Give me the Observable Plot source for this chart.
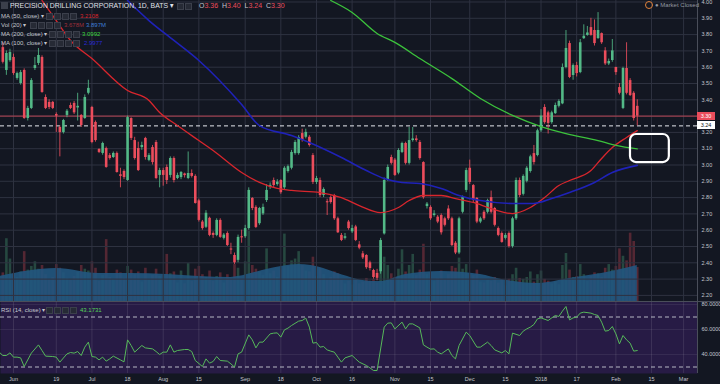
<!DOCTYPE html>
<html><head><meta charset="utf-8">
<script src="https://cdn.jsdelivr.net/npm/d3@7"></script>
<script src="https://cdn.jsdelivr.net/npm/@observablehq/plot@0.6"></script>
<style>
html,body{margin:0;padding:0;background:#131722;}
#wrap{position:relative;width:720px;height:384px;overflow:hidden;background:#131722;font-family:"Liberation Sans",Arial,sans-serif;}
.layer{position:absolute;left:0;}
.ov{position:absolute;white-space:nowrap;line-height:1;}
.icr{position:absolute;white-space:nowrap;font-size:0;line-height:0;height:7px;}
.ic{display:inline-block;width:5px;height:5px;background:#262a35;border:1px solid #3b3f4b;margin-right:1px;}
.pbox{position:absolute;left:697px;width:18px;height:8px;font-size:5.5px;line-height:8px;text-align:center;}
</style></head><body><div id="wrap"></div>
<script>
// ---------------- data ----------------
const firstIndex = -3; // bar index of first visible candle (0 = 1 Jun 2017)
const open = [
3.72,3.58,3.64,3.66,3.531,3.50,3.58,3.285,3.347,3.592,
3.623,3.66,3.414,3.384,3.384,3.31,3.23,3.199,3.304,3.365,
3.378,3.35,3.304,3.285,3.44,3.353,3.261,3.095,3.071,3.101,
3.058,3.046,3.071,2.94,2.96,2.905,3.285,3.15,3.101,3.107,
3.163,3.028,3.107,3.138,2.936,2.966,2.985,2.936,3.04,2.917,
2.923,2.945,2.917,2.948,2.93,2.78,2.65,2.618,2.673,2.58,
2.568,2.66,2.55,2.58,2.485,2.445,2.415,2.56,2.56,2.61,
2.795,2.74,2.64,2.70,2.782,2.865,2.905,2.88,2.905,2.86,
2.96,2.98,3.07,3.07,3.193,3.17,3.17,3.058,2.893,2.905,
2.813,2.775,2.80,2.813,2.67,2.568,2.55,2.65,2.59,2.62,
2.51,2.455,2.445,2.40,2.353,2.335,2.345,2.577,2.905,3.046,
3.03,2.95,3.077,3.132,3.01,3.15,3.16,3.138,3.015,2.745,
2.74,2.69,2.68,2.69,2.67,2.73,2.67,2.52,2.46,2.71,
2.844,2.98,2.874,2.795,2.65,2.71,2.71,2.80,2.733,2.61,
2.58,2.55,2.58,2.50,2.67,2.905,2.82,2.90,2.96,3.07,
3.058,3.21,3.353,3.32,3.26,3.315,3.36,3.375,3.598,3.745,
3.549,3.61,3.567,3.775,3.795,3.843,3.825,3.776,3.806,3.70,
3.62,3.641,3.598,3.475,3.347,3.592,3.518,3.44,3.36];
const high = [
3.75,3.70,3.71,3.68,3.57,3.58,3.59,3.36,3.53,3.66,
3.715,3.67,3.43,3.40,3.39,3.32,3.24,3.28,3.34,3.38,
3.39,3.44,3.31,3.43,3.52,3.36,3.27,3.10,3.14,3.11,
3.07,3.08,3.08,2.98,2.97,3.30,3.29,3.17,3.14,3.14,
3.17,3.07,3.12,3.15,2.98,2.98,3.00,3.05,3.05,2.95,
2.96,2.95,3.08,2.97,2.94,2.79,2.66,2.72,2.68,2.59,
2.67,2.67,2.58,2.59,2.52,2.46,2.57,2.60,2.63,2.86,
2.80,2.75,2.74,2.76,2.88,2.89,2.92,2.91,2.91,2.99,
3.00,3.09,3.15,3.18,3.22,3.22,3.18,3.07,2.93,2.92,
2.86,2.79,2.81,2.82,2.68,2.58,2.58,2.66,2.63,2.63,
2.53,2.47,2.45,2.41,2.36,2.36,2.55,2.92,3.00,3.06,
3.04,3.10,3.14,3.14,3.23,3.23,3.18,3.15,3.02,2.77,
2.75,2.72,2.69,2.70,2.68,2.75,2.68,2.53,2.68,2.81,
2.98,3.03,2.88,2.80,2.68,2.72,2.79,2.84,2.74,2.62,
2.59,2.58,2.59,2.68,2.92,2.92,2.94,2.99,3.06,3.12,
3.22,3.34,3.37,3.33,3.33,3.38,3.40,3.62,3.825,3.76,
3.62,3.63,3.77,3.86,3.85,3.90,3.89,3.935,3.81,3.72,
3.65,3.77,3.60,3.50,3.60,3.75,3.53,3.45,3.40];
const low = [
3.62,3.55,3.63,3.55,3.52,3.49,3.28,3.27,3.34,3.58,
3.61,3.44,3.34,3.34,3.34,3.20,3.05,3.19,3.29,3.34,
3.31,3.27,3.23,3.28,3.43,3.13,3.14,3.07,3.06,2.98,
3.03,3.04,2.95,2.86,2.91,2.90,3.15,3.03,2.96,3.09,
3.03,3.02,3.00,2.91,2.86,2.87,2.88,2.92,2.89,2.91,
2.91,2.92,2.91,2.92,2.76,2.65,2.60,2.61,2.56,2.55,
2.56,2.55,2.54,2.50,2.45,2.39,2.40,2.52,2.55,2.60,
2.72,2.61,2.63,2.69,2.77,2.85,2.86,2.87,2.82,2.85,
2.95,2.97,3.06,3.06,3.14,3.16,3.11,2.88,2.88,2.80,
2.80,2.69,2.76,2.66,2.58,2.53,2.54,2.60,2.58,2.53,
2.48,2.42,2.36,2.35,2.30,2.29,2.33,2.57,2.90,3.00,
2.93,2.94,3.07,3.00,3.00,3.14,3.14,3.03,2.79,2.73,
2.66,2.68,2.64,2.57,2.62,2.66,2.50,2.45,2.45,2.70,
2.83,2.88,2.77,2.64,2.64,2.66,2.70,2.70,2.62,2.56,
2.52,2.54,2.49,2.49,2.66,2.80,2.81,2.89,2.95,3.00,
3.05,3.20,3.25,3.19,3.25,3.31,3.35,3.37,3.59,3.53,
3.52,3.54,3.56,3.77,3.79,3.79,3.73,3.77,3.74,3.61,
3.61,3.63,3.55,3.43,3.34,3.43,3.42,3.27,3.24];
const close = [
3.63,3.684,3.69,3.561,3.561,3.567,3.285,3.347,3.518,3.61,
3.672,3.445,3.347,3.353,3.347,3.30,3.199,3.273,3.33,3.347,
3.32,3.36,3.242,3.414,3.47,3.138,3.15,3.077,3.132,2.985,
3.04,3.071,2.954,2.93,2.923,3.291,3.163,3.04,2.966,3.12,
3.046,3.058,3.015,2.917,2.966,2.936,2.905,3.04,2.905,2.936,
2.954,2.935,2.948,2.93,2.764,2.66,2.61,2.704,2.568,2.568,
2.66,2.556,2.57,2.506,2.48,2.40,2.556,2.555,2.61,2.844,
2.733,2.617,2.733,2.74,2.844,2.875,2.874,2.895,2.83,2.98,
2.99,3.077,3.138,3.168,3.15,3.20,3.12,2.893,2.917,2.813,
2.85,2.77,2.77,2.67,2.584,2.537,2.56,2.61,2.61,2.537,
2.49,2.43,2.37,2.365,2.31,2.305,2.537,2.905,2.985,3.01,
2.936,3.089,3.132,3.01,3.15,3.16,3.15,3.04,2.80,2.76,
2.67,2.70,2.65,2.584,2.63,2.67,2.506,2.46,2.67,2.80,
2.966,2.893,2.782,2.65,2.67,2.67,2.782,2.71,2.63,2.568,
2.525,2.568,2.50,2.67,2.905,2.813,2.93,2.98,3.05,3.015,
3.21,3.30,3.26,3.255,3.32,3.365,3.39,3.598,3.715,3.537,
3.61,3.561,3.75,3.79,3.81,3.795,3.745,3.825,3.75,3.62,
3.635,3.70,3.567,3.44,3.592,3.44,3.426,3.285,3.30];
const volume = [ // millions
3.1,6.8,4.6,3.0,2.6,3.2,5.4,3.4,3.8,4.3,
3.5,3.9,2.9,2.4,2.6,4.0,3.6,3.1,2.5,2.3,
2.7,3.2,3.9,3.5,3.3,4.3,3.6,2.2,2.8,6.7,
2.6,2.4,3.4,3.1,2.5,3.8,3.4,2.9,3.2,2.1,
3.6,2.3,2.8,3.5,2.7,2.4,5.1,3.0,3.2,2.0,
3.3,1.9,4.1,2.2,3.5,3.8,2.9,2.6,3.3,2.2,
2.7,3.1,2.0,2.9,2.5,4.0,3.6,2.4,4.3,7.6,
3.9,3.5,3.2,2.8,5.7,3.0,3.3,2.6,3.4,7.3,
3.8,4.4,4.6,5.4,3.9,3.3,3.2,4.8,2.7,3.6,
2.9,2.3,2.6,3.2,3.0,2.4,1.9,2.2,1.8,2.3,
1.9,2.1,2.5,2.2,2.4,2.0,6.5,4.8,3.9,3.0,
2.6,3.5,5.6,3.2,3.9,5.1,2.8,3.4,6.2,2.9,
3.1,2.2,2.5,3.3,2.4,2.9,3.8,3.6,4.7,3.5,
4.0,3.0,2.8,3.4,2.1,2.0,2.3,2.2,2.6,2.0,
2.3,1.7,2.4,2.9,3.6,2.5,2.4,2.6,3.2,2.1,
2.9,3.3,2.4,2.2,1.9,2.1,1.8,3.9,5.2,3.4,
2.6,2.7,4.0,2.9,2.2,2.7,3.1,3.0,2.6,3.6,
4.0,3.4,3.8,5.7,4.9,4.4,7.4,6.5,3.678];
const volMaIdx = [-4,12,24,33,43,52,61,63,71,80,87,91,101,103,110,120,131,137,147,150,156,165,175];
const volMaVal = [2.7,3.57,3.03,3.03,2.92,2.7,2.6,2.7,3.46,4.0,3.57,3.03,2.16,2.16,2.92,3.25,2.92,2.38,1.95,2.06,2.49,3.03,3.897];
const ma50Idx = [8,12,16,22,32,38,41,46,52,56,64,69,74,78,86,92,97,103,108,111,115,120,124,129,134,140,145,149,153,156,162,165,168,172,175];
const ma50Val = [4.009,3.886,3.764,3.653,3.457,3.396,3.322,3.242,3.15,3.089,2.954,2.893,2.856,2.844,2.831,2.80,2.751,2.708,2.739,2.782,2.813,2.813,2.794,2.77,2.733,2.702,2.739,2.80,2.874,2.905,2.966,3.04,3.107,3.169,3.2108];
const ma100Idx = [32,38,45,52,64,69,78,83,92,99,104,109,114,120,125,131,140,146,151,156,163,168,175];
const ma100Val = [4.009,3.886,3.764,3.641,3.371,3.242,3.181,3.138,3.046,2.966,2.917,2.893,2.887,2.856,2.813,2.782,2.764,2.764,2.794,2.831,2.893,2.954,2.9977];
const ma200Idx = [89,95,102,107,114,123,131,140,148,155,164,169,175];
const ma200Val = [4.009,3.936,3.807,3.752,3.653,3.53,3.408,3.304,3.236,3.193,3.15,3.12,3.0992];
const rsiIdx = [-4,-3,-2,-1,0,1,2,3,5,7,8,9,11,12,13,15,16,17,18,19,20,21,22,23,24,25,26,27,28,30,31,32,33,34,36,37,39,40,41,42,43,44,45,46,48,49,50,51,53,54,55,56,57,58,60,61,62,63,64,66,67,68,69,70,72,73,74,75,76,77,78,80,81,82,83,84,85,86,87,88,89,90,91,92,93,95,96,97,99,100,101,102,104,105,106,107,109,110,111,112,114,115,116,117,118,119,120,122,123,124,125,127,128,130,131,133,134,135,137,138,139,140,142,143,144,145,146,147,148,150,151,152,153,154,155,156,157,158,159,160,162,163,164,165,166,167,168,169,170,171,172,173,174,175];
const rsiVal = [41.9,39.2,39.2,41.3,37.9,37.9,37.3,30.4,41.1,47.7,43.2,38.7,38.4,37.9,33.9,40.5,41.6,41.1,42.4,39.2,45.9,49.9,38.4,37.9,35.7,37.9,34.7,36.5,38.7,35.7,34.1,51.7,47.2,41.9,47.2,45.3,44.5,42.4,40.0,41.9,41.9,47.7,41.9,43.2,44.0,44.0,42.4,35.2,30.4,36.5,33.1,34.4,38.4,35.2,34.7,32.5,29.9,40.5,41.9,55.7,51.7,45.3,49.9,49.9,56.5,57.1,57.3,53.9,59.7,61.1,63.2,66.7,67.2,69.1,61.9,49.1,49.6,45.9,46.4,43.7,42.7,41.9,37.9,33.9,37.3,39.2,36.5,33.9,31.2,29.3,27.2,27.2,61.9,65.1,65.3,60.5,65.9,60.5,64.5,64.5,61.3,47.7,45.9,44.3,44.5,41.9,40.5,44.5,39.2,36.5,47.2,57.9,55.2,45.9,45.9,49.9,47.2,43.7,41.3,43.2,40.5,57.1,55.2,58.7,60.5,61.9,64.0,68.5,69.3,67.2,69.3,71.2,70.4,74.7,78.4,67.7,69.3,69.9,73.1,73.9,73.1,72.0,71.2,65.9,58.7,59.2,62.4,56.5,48.5,55.2,51.7,49.1,42.7,43.1731];
const tickIdx = [0,12,22,32,42,52,65,75,85,95,107,117,128,138,148,158,169,179,188];
const tickLabels = ["Jun","19","Jul","18","Aug","15","Sep","18","Oct","16","Nov","15","Dec","15","2018","17","Feb","15","Mar"];
const priceTicks = [2.2,2.3,2.4,2.5,2.6,2.7,2.8,2.9,3.0,3.1,3.2,3.3,3.4,3.5,3.6,3.7,3.8,3.9,4.0];
const rsiTicks = [80,60,40];
const rsiBands = [70,30];
const lastPrice = 3.30;
const markedPrice = 3.24;
const boxIdx = [173.1,184.0];
const boxPrice = [3.015,3.187];
const title = "PRECISION DRILLING CORPORATION, 1D, BATS";
const ohlcKeys = ["O","H","L","C"];
const ohlcVals = ["3.36","3.40","3.24","3.30"];
const legendNames = ["MA (50, close)","Vol (20)","MA (200, close)","MA (100, close)"];
const legendVals = [["3.2108"],["3.678M","3.897M"],["3.0992"],["2.9977"]];
const rsiName = "RSI (14, close)";
const rsiLast = "43.1731";

// ---------------- drawing ----------------
const W = 720, MAIN_H = 301, RSI_H = 83;
const xDomain = [-3.65, 191.9];
const yDomain = [2.1626, 4.0092];
const UP = "#53b987", DOWN = "#eb4d5c";
const bars = open.map((o, i) => ({k: firstIndex + i, o, h: high[i], l: low[i], c: close[i], v: volume[i]}));
const toPts = (ks, vs) => ks.map((k, i) => ({k, v: vs[i]}));
const labelOf = new Map(tickIdx.map((k, i) => [k, tickLabels[i]]));
const colorOf = d => d.c >= d.o ? UP : DOWN;
const wrap = document.getElementById("wrap");

const volPlot = Plot.plot({
  width: W, height: MAIN_H, marginTop: 0, marginBottom: 0, marginLeft: 0, marginRight: 23,
  style: {background: "#131722"},
  x: {domain: xDomain, axis: null},
  y: {domain: [0, 32.6], axis: null},
  marks: [
    Plot.ruleX(bars, {x: "k", y1: 0, y2: "v", stroke: colorOf, strokeOpacity: 0.3, strokeWidth: 2.6}),
    Plot.areaY(toPts(volMaIdx, volMaVal), {x: "k", y: "v", fill: "#22577f", fillOpacity: 0.9, curve: "monotone-x", clip: true})
  ]
});

const mainPlot = Plot.plot({
  width: W, height: MAIN_H, marginTop: 0, marginBottom: 0, marginLeft: 0, marginRight: 23,
  style: {background: "transparent", color: "#c3c6ce", fontFamily: "Liberation Sans, Arial, sans-serif"},
  x: {domain: xDomain, axis: null},
  y: {domain: yDomain, axis: null},
  marks: [
    Plot.gridX(tickIdx, {stroke: "#2e3240", strokeOpacity: 1}),
    Plot.gridY(priceTicks, {stroke: "#2e3240", strokeOpacity: 1}),
    Plot.axisY(priceTicks, {anchor: "right", label: null, tickSize: 0, tickPadding: 4, tickFormat: d => d.toFixed(2), fontSize: 5.5}),
    Plot.ruleY([lastPrice], {stroke: DOWN, strokeOpacity: 0.75, strokeWidth: 1}),
    Plot.ruleY([markedPrice], {stroke: "#e6e8ee", strokeDasharray: "4,3", strokeWidth: 1}),
    Plot.ruleX(bars, {x: "k", y1: "l", y2: "h", stroke: colorOf, strokeWidth: 1, strokeOpacity: 0.85}),
    Plot.ruleX(bars, {x: "k", y1: "o", y2: d => Math.abs(d.c - d.o) < 0.007 ? d.o + (d.c >= d.o ? 0.007 : -0.007) : d.c, stroke: colorOf, strokeWidth: 2.6}),
    Plot.line(toPts(ma50Idx, ma50Val), {x: "k", y: "v", stroke: "#d8262d", strokeWidth: 1.3, curve: "monotone-x", clip: true}),
    Plot.line(toPts(ma100Idx, ma100Val), {x: "k", y: "v", stroke: "#1f22b8", strokeWidth: 1.6, curve: "monotone-x", clip: true}),
    Plot.line(toPts(ma200Idx, ma200Val), {x: "k", y: "v", stroke: "#3cc23c", strokeWidth: 1.3, curve: "monotone-x", clip: true}),
    Plot.rect([{}], {x1: boxIdx[0], x2: boxIdx[1], y1: boxPrice[0], y2: boxPrice[1], rx: 6, stroke: "#ffffff", strokeWidth: 2.2, fill: "none"}),
    Plot.ruleX([xDomain[1]], {stroke: "#4a4e5a"})
  ]
});

const rsiPlot = Plot.plot({
  width: W, height: RSI_H, marginTop: 0, marginBottom: 11, marginLeft: 0, marginRight: 23,
  style: {background: "transparent", color: "#c3c6ce", fontFamily: "Liberation Sans, Arial, sans-serif"},
  x: {domain: xDomain, axis: null},
  y: {domain: [24.8, 82.4], axis: null},
  marks: [
    Plot.frame({fill: "#271b45", stroke: null}),
    Plot.gridX(tickIdx, {stroke: "#ffffff", strokeOpacity: 0.1}),
    Plot.gridY(rsiTicks, {stroke: "#ffffff", strokeOpacity: 0.07}),
    Plot.ruleY(rsiBands, {stroke: "#cfd2da", strokeDasharray: "4,3", strokeOpacity: 0.85}),
    Plot.line(toPts(rsiIdx, rsiVal), {x: "k", y: "v", stroke: "#56b85a", strokeWidth: 1, clip: true}),
    Plot.axisY(rsiTicks, {anchor: "right", label: null, tickSize: 0, tickPadding: 4, tickFormat: d => d.toFixed(4), fontSize: 5.5}),
    Plot.axisX(tickIdx, {anchor: "bottom", label: null, tickSize: 0, tickPadding: 4, tickFormat: d => labelOf.get(d), fontSize: 5.5}),
    Plot.ruleX([xDomain[1]], {stroke: "#4a4e5a", y1: 82.4, y2: 24.8})
  ]
});

function place(el, top) { el.classList.add("layer"); el.style.top = top + "px"; wrap.appendChild(el); }
place(volPlot, 0);
place(mainPlot, 0);
place(rsiPlot, MAIN_H);

const sep = document.createElement("div");
sep.style.cssText = `position:absolute;left:0;top:${MAIN_H - 0.5}px;width:${W}px;height:1.5px;background:#4a4e5a;`;
wrap.appendChild(sep);

function ov(left, top, html, extra = "", cls = "ov") {
  const d = document.createElement("div");
  d.className = cls;
  d.style.cssText = `left:${left}px;top:${top}px;${extra}`;
  d.innerHTML = html;
  wrap.appendChild(d);
  return d;
}
const icons = n => Array.from({length: n}, () => '<span class="ic"></span>').join("");

// title row
ov(1, 2, '<span class="ic" style="background:#3b3f4b"></span>', "", "icr");
ov(10, 1.5, title + " ▾", "font-size:8px;color:#e0e3eb;transform:scaleX(0.86);transform-origin:left;");
ov(177, 2.5, icons(2), "", "icr");
ov(199, 2, ohlcKeys.map((k, i) => `<span style="color:#c3c6ce">${k}</span><span style="color:${DOWN}">${ohlcVals[i]}</span>`).join("&nbsp;&nbsp;"), "font-size:7px;");

// indicator legends
const legTops = [12.5, 21.5, 30.5, 40];
const legIconsLeft = [46, 30, 49, 49];
const legValLeft = [[80], [64, 86], [82], [84]];
const legColors = [["#d8262d"], ["#9e2f3a", "#3f7fd8"], ["#3cd43c"], ["#2a2ad6"]];
legendNames.forEach((n, i) => {
  ov(1, legTops[i], n + " ▾", "font-size:6px;color:#c3c6ce;");
  ov(legIconsLeft[i], legTops[i], icons(4), "", "icr");
  legendVals[i].forEach((v, j) => ov(legValLeft[i][j], legTops[i], v, `font-size:6px;color:${legColors[i][j]};`));
});

// market status
ov(645, 1, '<span style="display:inline-block;width:6px;height:6px;border:1px solid #e0813a;border-radius:50%;"></span>', "", "icr");
ov(655, 1.5, '● Market Closed', "font-size:6px;color:#9598a1;");

// RSI legend
ov(1, MAIN_H + 5.5, rsiName + " ▾", "font-size:6px;color:#c3c6ce;");
ov(46, MAIN_H + 5.5, icons(4), "", "icr");
ov(80, MAIN_H + 5.5, rsiLast, "font-size:6px;color:#56d35a;");

// price labels on the axis
const ys = mainPlot.scale("y");
const b1 = ov(697, ys.apply(lastPrice) - 4, lastPrice.toFixed(2), `background:${DOWN};color:#fff;`, "pbox");
const b2 = ov(697, ys.apply(markedPrice) - 4, markedPrice.toFixed(2), "background:#ffffff;color:#131722;", "pbox");
</script>
</body></html>
